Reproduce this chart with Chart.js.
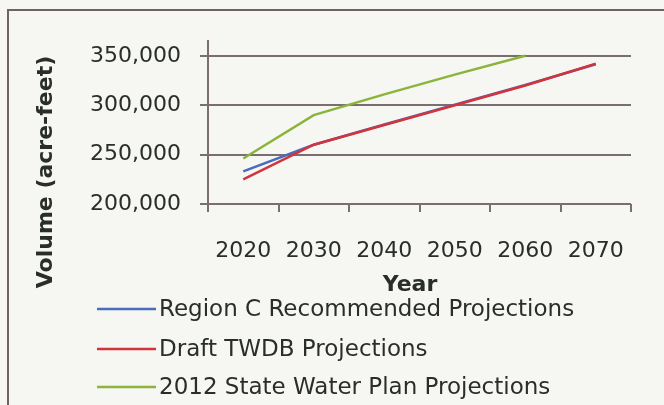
<!DOCTYPE html>
<html>
<head>
<meta charset="utf-8">
<script src="https://cdn.jsdelivr.net/npm/chart.js@4.4.1/dist/chart.umd.min.js"></script>
<style>
  html, body { margin: 0; padding: 0; background: #f6f6f2; }
  #wrap { position: relative; width: 664px; height: 405px; overflow: hidden; }
  #frame { position: absolute; left: 7px; top: 9px; width: 700px; height: 500px; border: 2px solid #6e6262; }
  canvas { position: absolute; left: 0; top: 0; }
</style>
</head>
<body>
<div id="wrap">
  <div id="frame"></div>
  <canvas id="volumeChart" width="664" height="405"></canvas>
</div>
<script>
const years = ['2020', '2030', '2040', '2050', '2060', '2070'];
const regionC = [233000, 260000, 280500, 300500, 320500, 341500];
const draftTwdb = [225000, 260000, 280000, 300000, 320000, 342000];
const stateWaterPlan = [246000, 290000, 311000, 331000, 350000, null];
const yTicks = [200000, 250000, 300000, 350000];

const textColor = '#2a2e2a';
const gridColor = '#7a6e6e';

// titles and legend are placed by hand like in the original picture
const extraText = {
    id: 'extraText',
    afterDraw(chart) {
        const ctx = chart.ctx;
        ctx.save();
        ctx.fillStyle = textColor;
        ctx.font = 'bold 22px "DejaVu Sans"';
        ctx.textAlign = 'center';
        ctx.textBaseline = 'middle';
        ctx.fillText('Year', 410, 285);

        ctx.translate(46, 172);
        ctx.rotate(-Math.PI / 2);
        ctx.fillText('Volume (acre-feet)', 0, 0);
        ctx.restore();

        ctx.save();
        const rows = [309, 349, 387];
        const order = [0, 1, 2];
        ctx.font = '23px "DejaVu Sans"';
        ctx.textAlign = 'left';
        ctx.textBaseline = 'middle';
        order.forEach((i, n) => {
            const ds = chart.data.datasets[i];
            ctx.strokeStyle = ds.borderColor;
            ctx.lineWidth = 2.5;
            ctx.beginPath();
            ctx.moveTo(97, rows[n]);
            ctx.lineTo(156, rows[n]);
            ctx.stroke();
            ctx.fillStyle = textColor;
            ctx.fillText(ds.label, 159, rows[n] + 1);
        });
        ctx.restore();
    }
};

new Chart(document.getElementById('volumeChart'), {
    type: 'line',
    data: {
        labels: years,
        datasets: [
            {
                label: 'Region C Recommended Projections',
                data: regionC,
                borderColor: '#4a6cbf',
                backgroundColor: '#4a6cbf',
                borderWidth: 2.5,
                pointRadius: 0,
                tension: 0,
                order: 1
            },
            {
                label: 'Draft TWDB Projections',
                data: draftTwdb,
                borderColor: '#d2343c',
                backgroundColor: '#d2343c',
                borderWidth: 2.5,
                pointRadius: 0,
                tension: 0,
                order: 0
            },
            {
                label: '2012 State Water Plan Projections',
                data: stateWaterPlan,
                borderColor: '#8cb43c',
                backgroundColor: '#8cb43c',
                borderWidth: 2.5,
                pointRadius: 0,
                tension: 0,
                order: 2
            }
        ]
    },
    options: {
        responsive: false,
        animation: false,
        layout: {
            padding: { top: 41, right: 33, bottom: 0, left: 0 }
        },
        plugins: {
            legend: { display: false },
            tooltip: { enabled: false }
        },
        scales: {
            x: {
                offset: true,
                grid: {
                    offset: true,
                    drawOnChartArea: false,
                    drawTicks: true,
                    tickLength: 8,
                    color: gridColor,
                    lineWidth: 2
                },
                border: { display: false },
                ticks: {
                    color: textColor,
                    font: { family: 'DejaVu Sans', size: 22 },
                    padding: 26,
                    maxRotation: 0
                },
                afterFit(scale) {
                    scale.height = 201;
                }
            },
            y: {
                min: 200000,
                max: 365000,
                afterBuildTicks(scale) {
                    scale.ticks = yTicks.map(v => ({ value: v }));
                },
                grid: {
                    color: gridColor,
                    lineWidth: 2,
                    tickLength: 8
                },
                border: { color: gridColor, width: 2 },
                ticks: {
                    color: textColor,
                    font: { family: 'DejaVu Sans', size: 22 },
                    padding: 19,
                    callback: v => v.toLocaleString('en-US')
                },
                afterFit(scale) {
                    scale.width = 208;
                }
            }
        }
    },
    plugins: [extraText]
});
</script>
</body>
</html>
